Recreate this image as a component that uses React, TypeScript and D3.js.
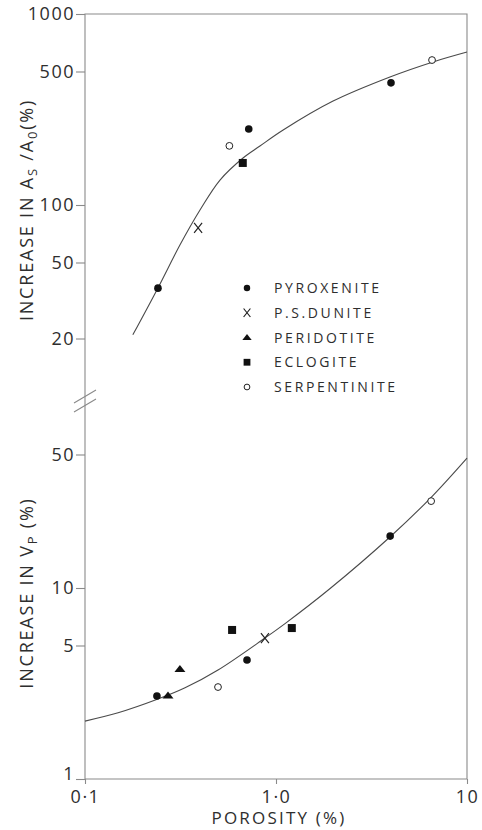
import * as d3 from "d3";
import React, { useEffect, useRef } from "react";

// porosity / value pairs
const rockTypes = ["PYROXENITE", "P.S.DUNITE", "PERIDOTITE", "ECLOGITE", "SERPENTINITE"];
const rockKeys = ["pyroxenite", "dunite", "peridotite", "eclogite", "serpentinite"];

// upper panel: increase in As/Ao (%)
const topRock = ["pyroxenite", "pyroxenite", "pyroxenite", "dunite", "eclogite", "serpentinite", "serpentinite"];
const topPorosity = [0.241, 0.72, 4.0, 0.391, 0.67, 0.57, 6.56];
const topIncrease = [36.7, 250, 436, 75.9, 166, 204, 574];

// lower panel: increase in Vp (%)
const botRock = ["pyroxenite", "pyroxenite", "pyroxenite", "peridotite", "peridotite", "serpentinite", "serpentinite", "eclogite", "eclogite", "dunite"];
const botPorosity = [0.238, 0.705, 3.96, 0.272, 0.314, 0.497, 6.49, 0.589, 1.21, 0.875];
const botIncrease = [2.72, 4.2, 18.7, 2.74, 3.77, 3.03, 28.5, 6.03, 6.17, 5.47];

// fitted curves
const topCurveX = [0.178, 0.241, 0.314, 0.4, 0.509, 0.672, 0.824, 1.09, 1.99, 3.95, 6.64, 10];
const topCurveY = [20.9, 36.8, 61.7, 94.1, 135.1, 176.3, 203.7, 247, 350, 468, 561, 632];
const botCurveX = [0.1, 0.149, 0.241, 0.334, 0.497, 0.875, 1.115, 1.92, 3.95, 6.4, 10];
const botCurveY = [2.01, 2.22, 2.62, 3.0, 3.72, 5.47, 6.51, 9.94, 18.5, 29.4, 47.9];

// ticks
const xTicks = [0.1, 1, 10];
const xTickLabels = ["0·1", "1·0", "10"];
const topTicks = [20, 50, 100, 500, 1000];
const topTickLabels = ["20", "50", "100", "500", "1000"];
const botTicks = [1, 5, 10, 50];
const botTickLabels = ["1", "5", "10", "50"];

const FONT = "'Open Sans', 'DejaVu Sans', sans-serif";
const INK = "#2e2e2e";
const FRAME = "#8a8a8a";

function drawMarker(g, kind, cx, cy, s) {
    if (kind === "pyroxenite") {
        g.append("circle").attr("cx", cx).attr("cy", cy).attr("r", 3.8 * s).attr("fill", "#111");
    } else if (kind === "serpentinite") {
        g.append("circle").attr("cx", cx).attr("cy", cy).attr("r", 3.4 * s)
            .attr("fill", "#fff").attr("stroke", "#222").attr("stroke-width", 1);
    } else if (kind === "eclogite") {
        const h = 4 * s;
        g.append("rect").attr("x", cx - h).attr("y", cy - h).attr("width", 2 * h).attr("height", 2 * h)
            .attr("fill", "#111");
    } else if (kind === "peridotite") {
        const w = 5.5 * s;
        g.append("path")
            .attr("d", `M${cx},${cy - 4 * s}L${cx + w},${cy + 3 * s}L${cx - w},${cy + 3 * s}Z`)
            .attr("fill", "#111");
    } else if (kind === "dunite") {
        const w = 4 * s, h = 5 * s;
        g.append("path")
            .attr("d", `M${cx - w},${cy - h}L${cx + w},${cy + h}M${cx + w},${cy - h}L${cx - w},${cy + h}`)
            .attr("stroke", "#222").attr("stroke-width", 1.2).attr("fill", "none");
    }
}

function PorosityChart() {
    const svgRef = useRef(null);

    useEffect(() => {
        const svg = d3.select(svgRef.current);
        svg.selectAll("*").remove();

        const left = 85, right = 467, top = 14, bottom = 779;

        const x = d3.scaleLog().domain([0.1, 10]).range([left, right]);
        const yTop = d3.scaleLog().domain([10, 1000]).range([396, top]);
        const yBot = d3.scaleLog().domain([1, 100]).range([bottom, 397]);

        svg.append("rect").attr("width", 482).attr("height", 830).attr("fill", "#fff");

        // frame
        svg.append("path")
            .attr("d", `M${left},${top}H${right}V${bottom}H${left}Z`)
            .attr("fill", "none").attr("stroke", FRAME).attr("stroke-width", 1.1);

        // axis break marks
        svg.append("path")
            .attr("d", "M74,403L96,390M74,412L96,399")
            .attr("stroke", FRAME).attr("stroke-width", 1.1).attr("fill", "none");

        const styleAxis = (g) => {
            g.select(".domain").remove();
            g.selectAll("line").attr("stroke", FRAME).attr("stroke-width", 1.1);
            g.selectAll("text").attr("fill", INK).attr("font-family", FONT)
                .attr("font-size", 18).attr("letter-spacing", 1.5);
        };

        svg.append("g")
            .attr("transform", `translate(${left},0)`)
            .call(d3.axisLeft(yTop).tickValues(topTicks).tickSize(9).tickPadding(1)
                .tickFormat((d, i) => topTickLabels[i]))
            .call(styleAxis);

        const botAxis = svg.append("g")
            .attr("transform", `translate(${left},0)`)
            .call(d3.axisLeft(yBot).tickValues(botTicks).tickSize(9).tickPadding(1)
                .tickFormat((d, i) => botTickLabels[i]))
            .call(styleAxis);
        // the "1" sits just above the corner, clear of the 0·1 label
        botAxis.selectAll("text").filter((d) => d === 1).attr("dy", "0.05em");

        svg.append("g")
            .attr("transform", `translate(0,${bottom})`)
            .call(d3.axisBottom(x).tickValues(xTicks).tickSize(5).tickPadding(6)
                .tickFormat((d, i) => xTickLabels[i]))
            .call(styleAxis);

        // curves
        const topLine = d3.line()
            .x((d) => x(d[0]))
            .y((d) => yTop(d[1]))
            .curve(d3.curveCatmullRom.alpha(0.5));
        const botLine = d3.line()
            .x((d) => x(d[0]))
            .y((d) => yBot(d[1]))
            .curve(d3.curveCatmullRom.alpha(0.5));

        svg.append("path")
            .datum(topCurveX.map((v, i) => [v, topCurveY[i]]))
            .attr("fill", "none").attr("stroke", "#4a4a4a").attr("stroke-width", 1.1)
            .attr("d", topLine);
        svg.append("path")
            .datum(botCurveX.map((v, i) => [v, botCurveY[i]]))
            .attr("fill", "none").attr("stroke", "#4a4a4a").attr("stroke-width", 1.1)
            .attr("d", botLine);

        // points
        const pts = svg.append("g");
        topRock.forEach((k, i) => drawMarker(pts, k, x(topPorosity[i]), yTop(topIncrease[i]), 1));
        botRock.forEach((k, i) => drawMarker(pts, k, x(botPorosity[i]), yBot(botIncrease[i]), 1));

        // legend
        const legend = svg.append("g");
        const rowY = d3.scalePoint().domain(rockKeys).range([288, 387]);
        rockKeys.forEach((k, i) => {
            drawMarker(legend, k, 247, rowY(k), 0.85);
            legend.append("text")
                .attr("x", 274).attr("y", rowY(k) + 5)
                .attr("font-family", FONT).attr("font-size", 14).attr("letter-spacing", 2.6)
                .attr("fill", INK).text(rockTypes[i]);
        });

        // axis titles
        const topTitle = svg.append("text")
            .attr("transform", "translate(33,210) rotate(-90)")
            .attr("text-anchor", "middle")
            .attr("font-family", FONT).attr("font-size", 18).attr("letter-spacing", 1.8)
            .attr("fill", INK);
        topTitle.append("tspan").text("INCREASE  IN  A");
        topTitle.append("tspan").attr("font-size", 13).attr("baseline-shift", "-4").text("S");
        topTitle.append("tspan").text(" /A");
        topTitle.append("tspan").attr("font-size", 13).attr("baseline-shift", "-4").text("0");
        topTitle.append("tspan").text("(%)");

        const botTitle = svg.append("text")
            .attr("transform", "translate(33,593) rotate(-90)")
            .attr("text-anchor", "middle")
            .attr("font-family", FONT).attr("font-size", 18).attr("letter-spacing", 1.8)
            .attr("fill", INK);
        botTitle.append("tspan").text("INCREASE  IN  V");
        botTitle.append("tspan").attr("font-size", 13).attr("baseline-shift", "-4").text("P");
        botTitle.append("tspan").text("  (%)");

        svg.append("text")
            .attr("x", 279).attr("y", 824)
            .attr("text-anchor", "middle")
            .attr("font-family", FONT).attr("font-size", 17).attr("letter-spacing", 2.2)
            .attr("fill", INK).text("POROSITY (%)");
    }, []);

    return (
        <svg
            ref={svgRef}
            width={482}
            height={830}
            style={{ position: "absolute", left: 0, top: 0, display: "block" }}
        ></svg>
    );
}

export default function App() {
    return <PorosityChart />;
}
